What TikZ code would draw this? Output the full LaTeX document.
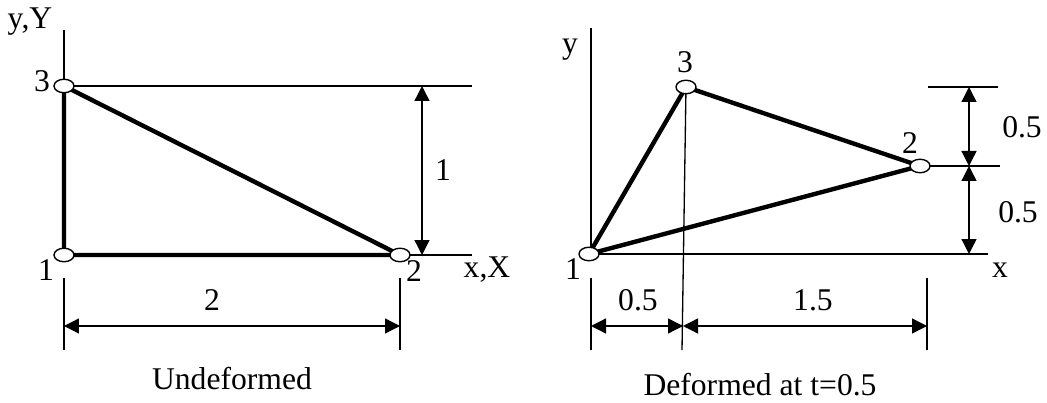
\documentclass[tikz,border=0pt]{standalone}
\usepackage{fontspec}
\setmainfont{Liberation Serif}
\usetikzlibrary{shapes.geometric,arrows.meta,backgrounds}

\begin{document}
\begin{tikzpicture}[x=0.02cm,y=0.02cm,
    joint/.style={ellipse, draw, fill=white, line width=0.8pt, minimum width=0.4cm, minimum height=0.27cm, inner sep=0pt},
    member/.style={line width=2.5pt, line cap=round},
    guide/.style={line width=0.75pt},
    dim/.style={line width=0.75pt, {Triangle[length=0.3cm,width=0.3cm]}-{Triangle[length=0.3cm,width=0.3cm]}},
    lbl/.style={font=\fontsize{18}{20}\selectfont, inner sep=0pt}]
\useasboundingbox (0,0) rectangle (1047,402);

% undeformed
\node[joint] (a1) at (64,147) {};
\node[joint] (a2) at (400,147) {};
\node[joint] (a3) at (64,316) {};
\coordinate (ay) at (64,372);
\coordinate (ax) at (472,147);
\coordinate (at) at (472,316);
\coordinate (av) at (422,0);
\coordinate (ah) at (0,76);
\begin{scope}[on background layer]
\draw[guide] (a1.center) -- (ay);
\draw[guide] (a2.center) -- (ax);
\draw[guide] (a3.center) -- (at);
\draw[member] (a1.center) -- (a2.center) -- (a3.center) -- cycle;
\end{scope}
\draw[dim] (av |- a3) -- (av |- a2);
\draw[guide] (64,124) -- (64,52);
\draw[guide] (400,124) -- (400,52);
\draw[dim] (ah -| a1) -- (ah -| a2);
\node[lbl] (ny) at (30,380) {y,Y};
\node[lbl] (nx) at (487,132) {x,X};
\node[lbl] (n1) at (46,132) {1};
\node[lbl] (n2) at (414,131) {2};
\node[lbl] (n3) at (42,321) {3};
\node[lbl] (d1) at (443,232) {1};
\node[lbl] (d2) at (212,102) {2};
\node[lbl] (cap1) at (232,23) {Undeformed};

% deformed
\node[joint] (b1) at (589,148) {};
\node[joint] (b2) at (920,236) {};
\node[joint] (b3) at (686,315) {};
\coordinate (by) at (591,374);
\coordinate (bx) at (988,148);
\coordinate (bs) at (682,52);
\coordinate (bv) at (969,0);
\begin{scope}[on background layer]
\draw[guide] (591,148) -- (by);
\draw[guide] (b1.center) -- (bx);
\draw[guide] (b3.center) -- (bs);
\draw[guide] (b2.center) -- (1000,236);
\draw[member] (b1.center) -- (b2.center) -- (b3.center) -- cycle;
\end{scope}
\draw[guide] (928,315) -- (998,315);
\draw[dim] (bv |- b3) -- (bv |- b2);
\draw[dim] (bv |- b2) -- (bv |- b1);
\draw[guide] (591,124) -- (591,52);
\draw[guide] (927,124) -- (927,52);
\draw[dim] (591,76) -- (683,76);
\draw[dim] (683,76) -- (927,76);
\node[lbl] (my) at (570,352) {y};
\node[lbl] (mx) at (1000,132) {x};
\node[lbl] (m1) at (573,133) {1};
\node[lbl] (m2) at (910,259) {2};
\node[lbl] (m3) at (685,340) {3};
\node[lbl] (e1) at (1022,275) {0.5};
\node[lbl] (e2) at (1018,190) {0.5};
\node[lbl] (e3) at (638,102) {0.5};
\node[lbl] (e4) at (813,102) {1.5};
\node[lbl] (cap2) at (760,17) {Deformed at t=0.5};
\end{tikzpicture}
\end{document}
